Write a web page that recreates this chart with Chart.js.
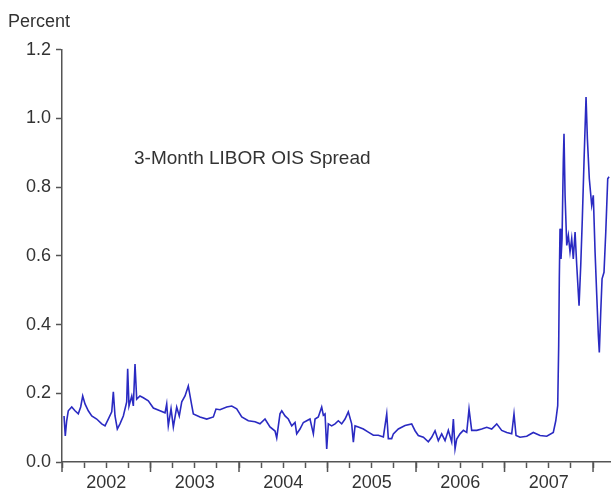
<!DOCTYPE html>
<html>
<head>
<meta charset="utf-8">
<script src="https://cdn.jsdelivr.net/npm/chart.js@4"></script>
<style>
  html, body { margin: 0; padding: 0; background: #fff; }
  #wrap { width: 611px; height: 493px; }
</style>
</head>
<body>
<div id="wrap"><canvas id="liborChart"></canvas></div>
<script>
// dates as decimal years
const dates = [
  2002.023, 2002.037, 2002.053, 2002.071, 2002.110, 2002.147, 2002.184, 2002.211, 2002.234, 2002.260,
  2002.297, 2002.336, 2002.392, 2002.449, 2002.486, 2002.523, 2002.562, 2002.580, 2002.599, 2002.625,
  2002.655, 2002.693, 2002.731, 2002.742, 2002.757, 2002.788, 2002.806, 2002.825, 2002.844, 2002.881,
  2002.919, 2002.975, 2003.032, 2003.107, 2003.164, 2003.183, 2003.201, 2003.232, 2003.258, 2003.296,
  2003.325, 2003.353, 2003.390, 2003.427, 2003.466, 2003.484, 2003.559, 2003.635, 2003.710, 2003.740,
  2003.785, 2003.861, 2003.918, 2003.974, 2004.031, 2004.105, 2004.181, 2004.237, 2004.294, 2004.350,
  2004.407, 2004.426, 2004.463, 2004.483, 2004.520, 2004.557, 2004.596, 2004.633, 2004.652, 2004.689,
  2004.727, 2004.765, 2004.802, 2004.840, 2004.859, 2004.896, 2004.934, 2004.953, 2004.972, 2004.991,
  2005.009, 2005.047, 2005.085, 2005.122, 2005.160, 2005.198, 2005.235, 2005.273, 2005.292, 2005.311,
  2005.348, 2005.405, 2005.461, 2005.518, 2005.574, 2005.631, 2005.669, 2005.687, 2005.725, 2005.744,
  2005.800, 2005.876, 2005.951, 2005.989, 2006.026, 2006.083, 2006.139, 2006.177, 2006.215, 2006.252,
  2006.290, 2006.328, 2006.365, 2006.403, 2006.422, 2006.441, 2006.460, 2006.497, 2006.535, 2006.573,
  2006.599, 2006.629, 2006.686, 2006.742, 2006.799, 2006.855, 2006.912, 2006.968, 2007.025, 2007.081,
  2007.107, 2007.130, 2007.175, 2007.251, 2007.325, 2007.401, 2007.477, 2007.551, 2007.579, 2007.601,
  2007.612, 2007.619, 2007.627, 2007.638, 2007.650, 2007.664, 2007.672, 2007.684, 2007.703, 2007.721,
  2007.740, 2007.759, 2007.777, 2007.797, 2007.816, 2007.842, 2007.861, 2007.879, 2007.898, 2007.921,
  2007.936, 2007.958, 2007.985, 2008.003, 2008.023, 2008.042, 2008.060, 2008.071, 2008.087, 2008.102,
  2008.124, 2008.144, 2008.166, 2008.181
];

// 3-month LIBOR minus OIS, percent
const spread = [
  0.134, 0.076, 0.120, 0.149, 0.160, 0.149, 0.140, 0.160, 0.192, 0.169,
  0.149, 0.134, 0.125, 0.111, 0.105, 0.125, 0.146, 0.204, 0.134, 0.096,
  0.111, 0.134, 0.175, 0.271, 0.163, 0.192, 0.163, 0.285, 0.183, 0.192,
  0.187, 0.178, 0.157, 0.149, 0.143, 0.169, 0.105, 0.155, 0.102, 0.160,
  0.134, 0.175, 0.192, 0.221, 0.165, 0.140, 0.131, 0.125, 0.131, 0.154,
  0.152, 0.160, 0.163, 0.155, 0.131, 0.120, 0.117, 0.111, 0.125, 0.102,
  0.090, 0.070, 0.140, 0.149, 0.134, 0.125, 0.105, 0.115, 0.082, 0.096,
  0.115, 0.120, 0.125, 0.082, 0.125, 0.131, 0.160, 0.136, 0.140, 0.038,
  0.111, 0.105, 0.111, 0.120, 0.111, 0.125, 0.146, 0.111, 0.058, 0.105,
  0.102, 0.096, 0.087, 0.078, 0.078, 0.073, 0.140, 0.068, 0.068, 0.082,
  0.096, 0.106, 0.111, 0.091, 0.077, 0.072, 0.059, 0.072, 0.091, 0.062,
  0.082, 0.062, 0.092, 0.058, 0.125, 0.038, 0.067, 0.082, 0.092, 0.086,
  0.154, 0.092, 0.092, 0.096, 0.101, 0.096, 0.111, 0.092, 0.086, 0.082,
  0.140, 0.077, 0.072, 0.075, 0.086, 0.077, 0.075, 0.086, 0.120, 0.164,
  0.339, 0.533, 0.679, 0.591, 0.650, 0.873, 0.955, 0.776, 0.630, 0.659,
  0.611, 0.650, 0.591, 0.669, 0.572, 0.455, 0.572, 0.708, 0.873, 1.062,
  0.941, 0.824, 0.747, 0.776, 0.611, 0.485, 0.368, 0.319, 0.436, 0.533,
  0.552, 0.669, 0.824, 0.830
];

const yearLabels = [2002, 2003, 2004, 2005, 2006, 2007];
const seriesLabel = '3-Month LIBOR OIS Spread';

const textColor = '#333';
const axisColor = '#555';
const fontFamily = "'Liberation Sans', Arial, sans-serif";

// longer tick marks at the start of each year
const yearTicks = {
  id: 'yearTicks',
  afterDraw(chart) {
    const { ctx, scales: { x } } = chart;
    ctx.save();
    ctx.strokeStyle = axisColor;
    ctx.lineWidth = 1.5;
    for (let yr = Math.ceil(x.min); yr <= x.max; yr++) {
      const px = x.getPixelForValue(yr);
      ctx.beginPath();
      ctx.moveTo(px, x.top);
      ctx.lineTo(px, x.top + 10);
      ctx.stroke();
    }
    ctx.restore();
  }
};

// series name written inside the plot
const seriesNote = {
  id: 'seriesNote',
  afterDraw(chart) {
    const { ctx, scales: { x, y } } = chart;
    ctx.save();
    ctx.font = '19px ' + fontFamily;
    ctx.fillStyle = textColor;
    ctx.textAlign = 'center';
    ctx.textBaseline = 'middle';
    ctx.fillText(seriesLabel, x.getPixelForValue(2004.15), y.getPixelForValue(0.883));
    ctx.restore();
  }
};

const ctx = document.getElementById('liborChart').getContext('2d');
new Chart(ctx, {
  type: 'line',
  data: {
    datasets: [{
      label: seriesLabel,
      data: dates.map((t, i) => ({ x: t, y: spread[i] })),
      borderColor: '#2a2ac2',
      borderWidth: 1.6,
      pointRadius: 0,
      tension: 0,
      fill: false
    }]
  },
  options: {
    responsive: true,
    maintainAspectRatio: false,
    animation: false,
    layout: { padding: { left: 8, right: 0, top: 0, bottom: 0 } },
    plugins: {
      legend: { display: false },
      tooltip: { enabled: false },
      title: {
        display: true,
        text: 'Percent',
        align: 'start',
        color: textColor,
        font: { family: fontFamily, size: 18, weight: 'normal' },
        padding: { top: 11, bottom: 17 }
      }
    },
    scales: {
      x: {
        type: 'linear',
        min: 2002,
        max: 2008.203,
        afterFit(scale) { scale.height = 31; },
        border: { color: axisColor, width: 1.5 },
        grid: { drawOnChartArea: false, tickLength: 6, tickColor: axisColor, tickWidth: 1.5 },
        ticks: {
          stepSize: 0.25,
          includeBounds: false,
          autoSkip: false,
          maxRotation: 0,
          padding: 4,
          color: textColor,
          font: { family: fontFamily, size: 18 },
          callback(value) {
            const yr = Math.floor(value);
            return Math.abs(value - yr - 0.5) < 1e-6 && yearLabels.includes(yr) ? String(yr) : '';
          }
        }
      },
      y: {
        min: 0,
        max: 1.2,
        afterFit(scale) { scale.width = 54; },
        border: { color: axisColor, width: 1.5 },
        grid: { drawOnChartArea: false, tickLength: 6, tickColor: axisColor, tickWidth: 1.5 },
        ticks: {
          stepSize: 0.2,
          padding: 5,
          color: textColor,
          font: { family: fontFamily, size: 18 },
          callback(value) { return value.toFixed(1); }
        }
      }
    }
  },
  plugins: [yearTicks, seriesNote]
});
</script>
</body>
</html>
